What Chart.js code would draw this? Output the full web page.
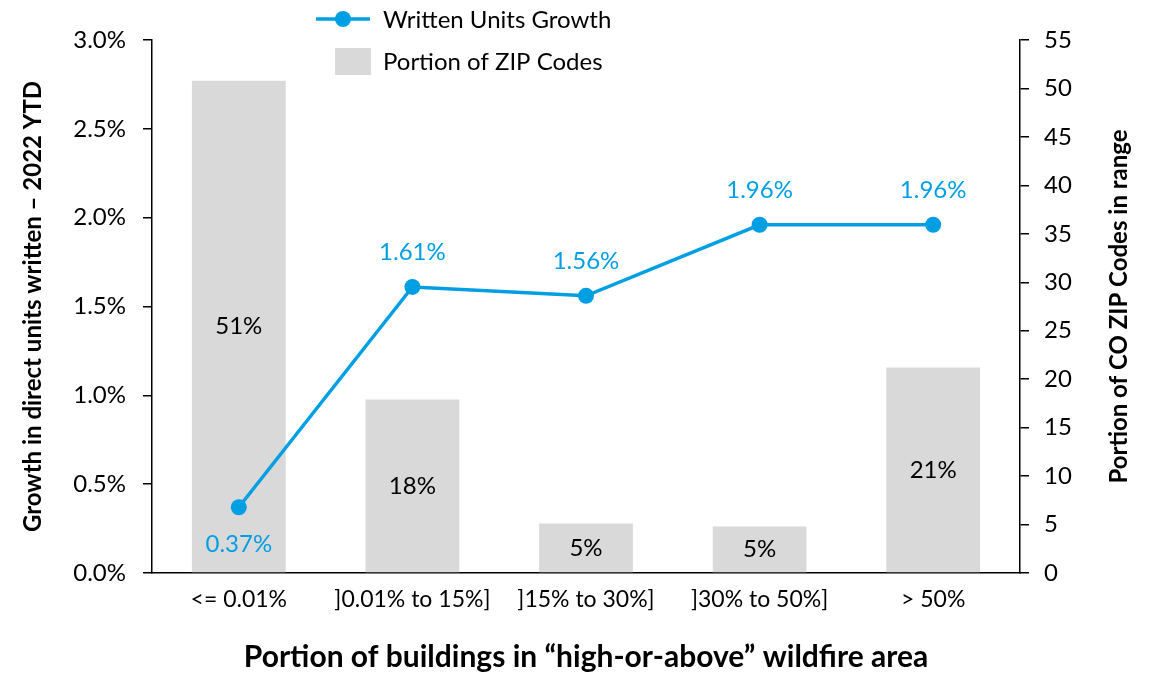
<!DOCTYPE html>
<html>
<head>
<meta charset="utf-8">
<script src="https://cdn.jsdelivr.net/npm/chart.js@4.4.0/dist/chart.umd.min.js"></script>
<style>
  html, body { margin: 0; padding: 0; background: #ffffff; }
  #wrap { width: 1152px; height: 675px; position: relative; }
</style>
</head>
<body>
<div id="wrap"><canvas id="c" width="1152" height="675"></canvas></div>
<script>
const categories = ['<= 0.01%', ']0.01% to 15%]', ']15% to 30%]', ']30% to 50%]', '> 50%'];
const growthValues = [0.37, 1.61, 1.56, 1.96, 1.96];
const zipPortion = [50.8, 17.9, 5.1, 4.8, 21.2];
const zipLabels = ['51%', '18%', '5%', '5%', '21%'];
const leftTicks = [0, 0.5, 1.0, 1.5, 2.0, 2.5, 3.0];
const rightTicks = [0, 5, 10, 15, 20, 25, 30, 35, 40, 45, 50, 55];
const rightTitle = 'Portion of CO ZIP Codes in range';

const FONT = 'Lato, "Open Sans", "Liberation Sans", sans-serif';
const BLUE = '#009FE3';
const GREY = '#D9D9D9';

const labelPlugin = {
  id: 'valueLabels',
  afterDatasetsDraw(chart) {
    const ctx = chart.ctx;
    ctx.save();
    ctx.textAlign = 'center';
    ctx.textBaseline = 'middle';
    const barMeta = chart.getDatasetMeta(1);
    ctx.font = '24px ' + FONT;
    ctx.fillStyle = '#000000';
    barMeta.data.forEach((el, i) => {
      const y = (el.y + el.base) / 2;
      ctx.fillText(zipLabels[i], el.x, y);
    });
    const lineMeta = chart.getDatasetMeta(0);
    ctx.fillStyle = BLUE;
    lineMeta.data.forEach((el, i) => {
      const txt = growthValues[i].toFixed(2) + '%';
      const y = i === 0 ? el.y + 37 : el.y - 35;
      ctx.fillText(txt, el.x, y);
    });
    ctx.restore();
  }
};

const decorPlugin = {
  id: 'decor',
  afterDraw(chart) {
    const ctx = chart.ctx;
    ctx.save();
    // legend: line entry
    ctx.strokeStyle = BLUE;
    ctx.lineWidth = 3.5;
    ctx.beginPath();
    ctx.moveTo(316, 19);
    ctx.lineTo(370, 19);
    ctx.stroke();
    ctx.fillStyle = BLUE;
    ctx.beginPath();
    ctx.arc(343, 19, 8, 0, Math.PI * 2);
    ctx.fill();
    // legend: bar entry
    ctx.fillStyle = GREY;
    ctx.fillRect(335, 48, 36, 27);
    ctx.fillStyle = '#000000';
    ctx.font = '24px ' + FONT;
    ctx.textAlign = 'left';
    ctx.textBaseline = 'middle';
    ctx.fillText(chart.data.datasets[0].label, 383, 20);
    ctx.fillText(chart.data.datasets[1].label, 383, 62);
    // right axis title, reading bottom-to-top
    const area = chart.chartArea;
    ctx.translate(1119, (area.top + area.bottom) / 2);
    ctx.rotate(-Math.PI / 2);
    ctx.textAlign = 'center';
    ctx.font = 'bold 24px ' + FONT;
    ctx.fillText(rightTitle, 0, 0);
    ctx.restore();
  }
};

new Chart(document.getElementById('c'), {
  data: {
    labels: categories,
    datasets: [
      {
        type: 'line',
        label: 'Written Units Growth',
        data: growthValues,
        yAxisID: 'y',
        borderColor: BLUE,
        backgroundColor: BLUE,
        borderWidth: 3.5,
        pointRadius: 8,
        pointBackgroundColor: BLUE,
        pointBorderWidth: 0,
        tension: 0,
        order: 0
      },
      {
        type: 'bar',
        label: 'Portion of ZIP Codes',
        data: zipPortion,
        yAxisID: 'y1',
        backgroundColor: GREY,
        borderWidth: 0,
        categoryPercentage: 1.0,
        barPercentage: 0.54,
        order: 1
      }
    ]
  },
  options: {
    responsive: false,
    animation: false,
    layout: { padding: { top: 40, left: 0, right: 0, bottom: 0 } },
    plugins: { legend: { display: false }, tooltip: { enabled: false } },
    scales: {
      x: {
        grid: { display: false, drawTicks: false },
        border: { color: '#000000', width: 1.5 },
        ticks: { color: '#000000', font: { family: FONT, size: 23 }, padding: 13, maxRotation: 0, autoSkip: false },
        title: {
          display: true,
          text: 'Portion of buildings in \u201Chigh-or-above\u201D wildfire area',
          color: '#000000',
          font: { family: FONT, size: 30, weight: 'bold' },
          padding: { top: 0, bottom: 0 }
        },
        afterFit(scale) { scale.height = 102; }
      },
      y: {
        position: 'left',
        min: 0,
        max: 3.0,
        afterBuildTicks(scale) { scale.ticks = leftTicks.map(v => ({ value: v })); },
        grid: { drawOnChartArea: false, drawTicks: true, tickLength: 9, color: '#000000', lineWidth: 1.5 },
        border: { color: '#000000', width: 1.5 },
        ticks: {
          color: '#000000',
          font: { family: FONT, size: 24 },
          padding: 17,
          callback: v => Number(v).toFixed(1) + '%'
        },
        title: {
          display: true,
          text: 'Growth in direct units written \u2013 2022 YTD',
          color: '#000000',
          font: { family: FONT, size: 24, weight: 'bold' },
          padding: { top: 19, bottom: 0 }
        },
        afterFit(scale) { scale.width = 152; }
      },
      y1: {
        position: 'right',
        min: 0,
        max: 55,
        afterBuildTicks(scale) { scale.ticks = rightTicks.map(v => ({ value: v })); },
        grid: { drawOnChartArea: false, drawTicks: true, tickLength: 9, color: '#000000', lineWidth: 1.5 },
        border: { color: '#000000', width: 1.5 },
        ticks: { color: '#000000', font: { family: FONT, size: 24 }, padding: 15 },
        title: { display: false },
        afterFit(scale) { scale.width = 132; }
      }
    }
  },
  plugins: [labelPlugin, decorPlugin]
});
</script>
</body>
</html>
